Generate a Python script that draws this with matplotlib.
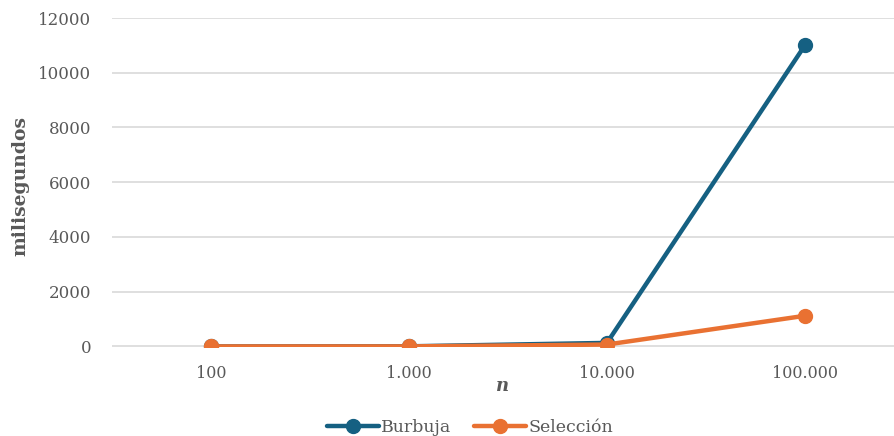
import matplotlib.pyplot as plt

categorias = ["100", "1.000", "10.000", "100.000"]
burbuja = [0, 5, 130, 11000]
seleccion = [0, 2, 70, 1120]

azul = "#156082"
naranja = "#E97132"
gris = "#595959"

plt.rcParams["font.family"] = ["DejaVu Serif"]

fig = plt.figure(figsize=(8.94, 4.36), dpi=100)
ax = fig.add_axes([112 / 894, 89 / 436, 782 / 894, 329 / 436])

x = range(len(categorias))
ax.plot(x, burbuja, color=azul, lw=3.2, marker="o", ms=10, label="Burbuja",
        solid_capstyle="round", zorder=3)
ax.plot(x, seleccion, color=naranja, lw=3.2, marker="o", ms=10, label="Selección",
        solid_capstyle="round", zorder=4)

ax.set_xlim(-0.5, 3.45)
ax.set_ylim(-20, 12000)
ax.set_yticks(range(0, 12001, 2000))
ax.set_xticks(list(x))
ax.set_xticklabels(categorias)
ax.grid(axis="y", color="#D9D9D9", lw=1.2)
ax.set_axisbelow(True)
for s in ax.spines.values():
    s.set_visible(False)
ax.tick_params(length=0, labelsize=11.5, colors=gris)
ax.tick_params(axis="y", labelsize=12, pad=15)
ax.tick_params(axis="x", pad=13)

fig.text(20 / 894, 1 - 186 / 436, "milisegundos", rotation=90, ha="center",
         va="center", fontsize=13.5, fontweight="bold", color=gris)
ax.set_xlabel("n", fontsize=13, fontweight="bold", style="italic", color=gris, labelpad=-4)

fig.legend(loc="lower center", ncol=2, frameon=False, fontsize=12.5,
           labelcolor=gris, bbox_to_anchor=(0.526, -0.035), handlelength=3.0,
           handletextpad=0.15, columnspacing=1.3)

fig.savefig("out.png", dpi=100)
